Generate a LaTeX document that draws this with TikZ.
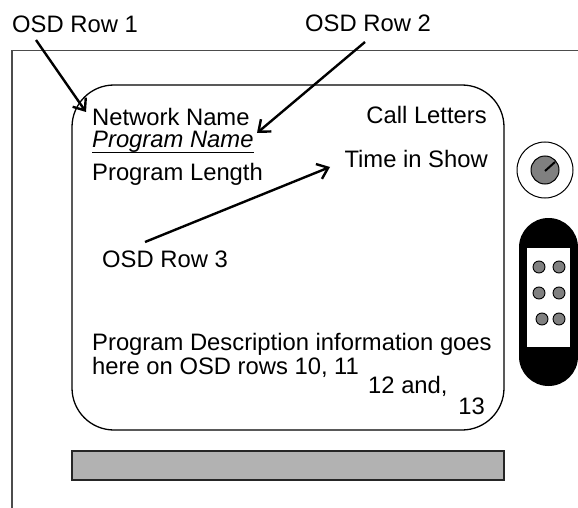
\documentclass[tikz,border=0pt]{standalone}
\usepackage{fontspec}
\setmainfont{Liberation Sans}
\usetikzlibrary{arrows.meta}

\tikzset{
  lbl/.style={anchor=base west, inner sep=0pt, font=\fontsize{23.8}{26}\selectfont},
  lblr/.style={anchor=base east, inner sep=0pt, font=\fontsize{23.8}{26}\selectfont},
  pointer/.style={line width=2.4pt, -{Straight Barb[length=10pt,width=16pt,line width=2.4pt]}},
  cabinet/.style={draw=black!70, line width=1.7pt},
  screen/.style={draw=black, line width=1.3pt, rounded corners=42pt},
  tuningbar/.style={draw=black!85, line width=1.5pt, fill=black!30},
  knobring/.style={draw=black, line width=1pt},
  knobcap/.style={draw=black, line width=1pt, fill=black!50},
  button/.style={draw=black, line width=0.9pt, fill=black!50},
}

\begin{document}
\begin{tikzpicture}[x=1pt, y=-1pt]
\useasboundingbox (0,0) rectangle (578,508);

% cabinet outline
\draw[cabinet] (12,508) -- (12,50.5) -- (578,50.5);

% picture area
\draw[screen] (72,85) rectangle (504,430);

% tuning bar under the screen
\draw[tuningbar] (72,451) rectangle (504,480);

% knob
\draw[knobring] (545,170) circle[radius=28];
\draw[knobcap] (545,170) circle[radius=14];
\draw[line width=2pt] (545,171) -- (555,162);

% button panel
\fill[black, rounded corners=29.5pt] (519,218) rectangle (578,386);
\fill[white] (527,248) rectangle (570,347);
\foreach \bx/\by in {539/267, 559/267, 539/293, 559/293, 542/319, 559/319}
  \draw[button] (\bx,\by) circle[radius=6];

% labels outside the screen
\node[lbl] (row1) at (12,33) {OSD Row 1};
\node[lbl] (row2) at (305,32) {OSD Row 2};
\node[lbl] (row3) at (102,267) {OSD Row 3};

% screen text
\node[lbl] (netname) at (92,125) {Network Name};
\node[lbl] (progname) at (92,147) {\itshape Program Name};
\draw[line width=1.3pt] ([yshift=-5.5pt]progname.base west) -- ([yshift=-5.5pt]progname.base east);
\node[lbl] (proglen) at (92,180) {Program Length};
\node[lblr] (callletters) at (487,124) {Call Letters};
\node[lblr] (timeshow) at (488,167) {Time in Show};
\node[lbl] (desc1) at (92,350) {Program Description information goes};
\node[lbl] (desc2) at (92,374) {here on OSD rows 10, 11};
\node[lbl] (desc3) at (368,393) {12 and,};
\node[lblr] (desc4) at (485,414) {13};

% pointers
\coordinate (p1s) at (36,40);
\coordinate (p1e) at (86,112);
\coordinate (p2s) at (365,42);
\coordinate (p2e) at (257,133);
\coordinate (p3s) at (145,242);
\coordinate (p3e) at (330,167);
\draw[pointer] (p1s) -- (p1e);
\draw[pointer] (p2s) -- (p2e);
\draw[pointer] (p3s) -- (p3e);
\end{tikzpicture}
\end{document}
